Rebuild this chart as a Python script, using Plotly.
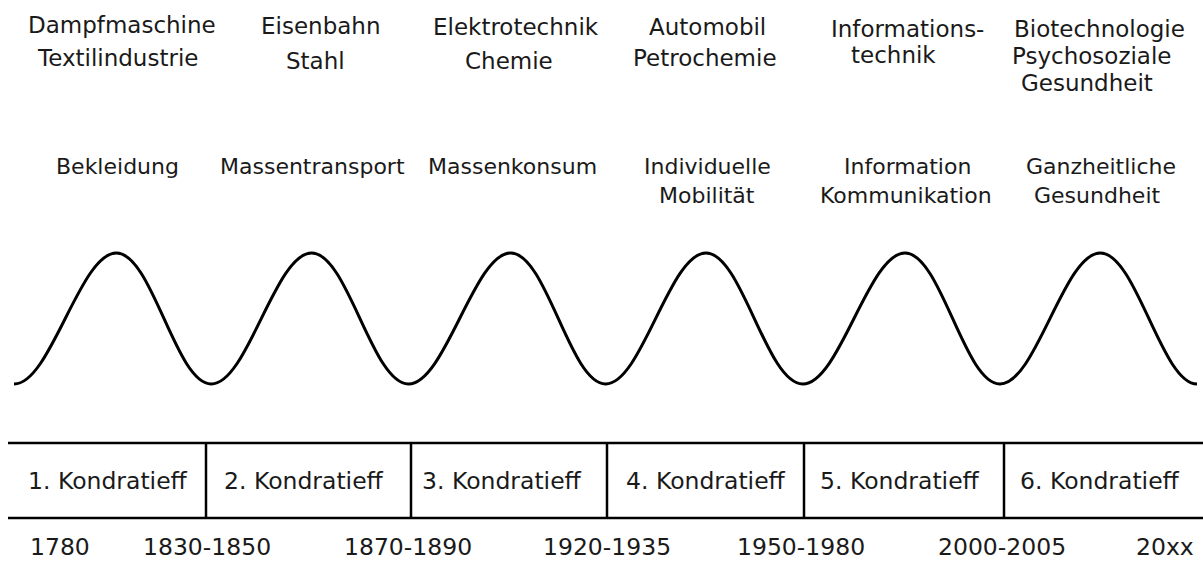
import plotly.graph_objects as go

# ---------------- data ----------------
# schematic long wave: phase (in cycles) and relative level of the turning points.
# The wave continues on both sides; the chart window shows phase 0 .. 6 (trough to trough).
wave_phase = [-0.48, 0, 0.52, 1, 1.51, 2, 2.52, 3, 3.51, 4, 4.52, 5, 5.51, 6, 6.49]
wave_level = [1, 0, 1, 0, 1, 0, 1, 0, 1, 0, 1, 0, 1, 0, 1]
visible_phase = [0, 6]

# basic innovations (top row)
innovations = [
    ["Dampfmaschine", "Textilindustrie"],
    ["Eisenbahn", "Stahl"],
    ["Elektrotechnik", "Chemie"],
    ["Automobil", "Petrochemie"],
    ["Informations-", "technik"],
    ["Biotechnologie", "Psychosoziale", "Gesundheit"],
]
# needs / markets (second row)
needs = [
    ["Bekleidung"],
    ["Massentransport"],
    ["Massenkonsum"],
    ["Individuelle", "Mobilität"],
    ["Information", "Kommunikation"],
    ["Ganzheitliche", "Gesundheit"],
]
cycle_names = ["1. Kondratieff", "2. Kondratieff", "3. Kondratieff",
               "4. Kondratieff", "5. Kondratieff", "6. Kondratieff"]
period_labels = ["1780", "1830-1850", "1870-1890", "1920-1935",
                 "1950-1980", "2000-2005", "20xx"]

# ---------------- layout helpers ----------------
W, H = 1203, 561
PLOT_L, PLOT_R = 14, 1197          # pixel extent of the wave window
PX_Y0, PX_PER_LEVEL = 384.0, 131.0  # level 0 / level 1 pixel rows


def PX(px):   # pixel column -> paper x
    return (px - PLOT_L) / (PLOT_R - PLOT_L)


def PY(py):   # pixel row -> paper y
    return 1 - py / H


def LV(py):   # pixel row -> wave level
    return (PX_Y0 - py) / PX_PER_LEVEL


FONT = "DejaVu Sans, Verdana, sans-serif"
TXT = "#1a1a1a"

fig = go.Figure()
fig.add_trace(go.Scatter(
    x=wave_phase, y=wave_level, mode="lines",
    line=dict(color="black", width=3, shape="spline", smoothing=1.1),
    hoverinfo="skip", showlegend=False,
))

annotations = []


def label(px, py, text, size):
    annotations.append(dict(xref="paper", yref="paper", x=PX(px), y=PY(py),
                            text=text, showarrow=False,
                            xanchor="center", yanchor="middle",
                            font=dict(family=FONT, size=size, color=TXT)))


# top row positions (pixel centres of each line)
inno_pos = [
    [(122, 25), (117, 58.5)],
    [(320, 26), (315, 61)],
    [(516, 27), (509, 61)],
    [(707, 27), (705, 58)],
    [(907, 29), (894, 55)],
    [(1099, 29), (1092, 56), (1087, 83)],
]
for lines, poss in zip(innovations, inno_pos):
    for t, (px, py) in zip(lines, poss):
        label(px, py, t, 23)

need_pos = [
    [(117, 167)],
    [(312, 166)],
    [(512, 167)],
    [(707, 167), (707, 195)],
    [(907, 167), (906, 195)],
    [(1101, 167), (1097, 195)],
]
for lines, poss in zip(needs, need_pos):
    for t, (px, py) in zip(lines, poss):
        label(px, py, t, 22)

name_px = [108, 304, 502, 706, 900, 1100]
for t, px in zip(cycle_names, name_px):
    label(px, 481, t, 23.5)

period_px = [60, 207, 408, 607, 801, 1002, 1165]
for t, px in zip(period_labels, period_px):
    label(px, 547, t, 23.5)

# table frame
shapes = []
for py in (443, 518):
    shapes.append(dict(type="line", xref="paper", yref="paper",
                       x0=PX(8), x1=PX(1203), y0=PY(py), y1=PY(py),
                       line=dict(color="black", width=2.5)))
for px in (206, 411, 607, 804, 1004):
    shapes.append(dict(type="line", xref="paper", yref="paper",
                       x0=PX(px), x1=PX(px), y0=PY(443), y1=PY(518),
                       line=dict(color="black", width=2.5)))

fig.update_layout(
    width=W, height=H, autosize=False,
    margin=dict(l=PLOT_L, r=W - PLOT_R, t=0, b=0, pad=0),
    paper_bgcolor="white", plot_bgcolor="white",
    xaxis=dict(range=visible_phase, visible=False, fixedrange=True),
    yaxis=dict(range=[LV(H), LV(0)], visible=False, fixedrange=True),
    annotations=annotations, shapes=shapes,
    showlegend=False,
)

fig.write_html(
    "out.html",
    config={"displayModeBar": False},
    post_script="document.body.style.margin='0';document.body.style.overflow='hidden';",
)
